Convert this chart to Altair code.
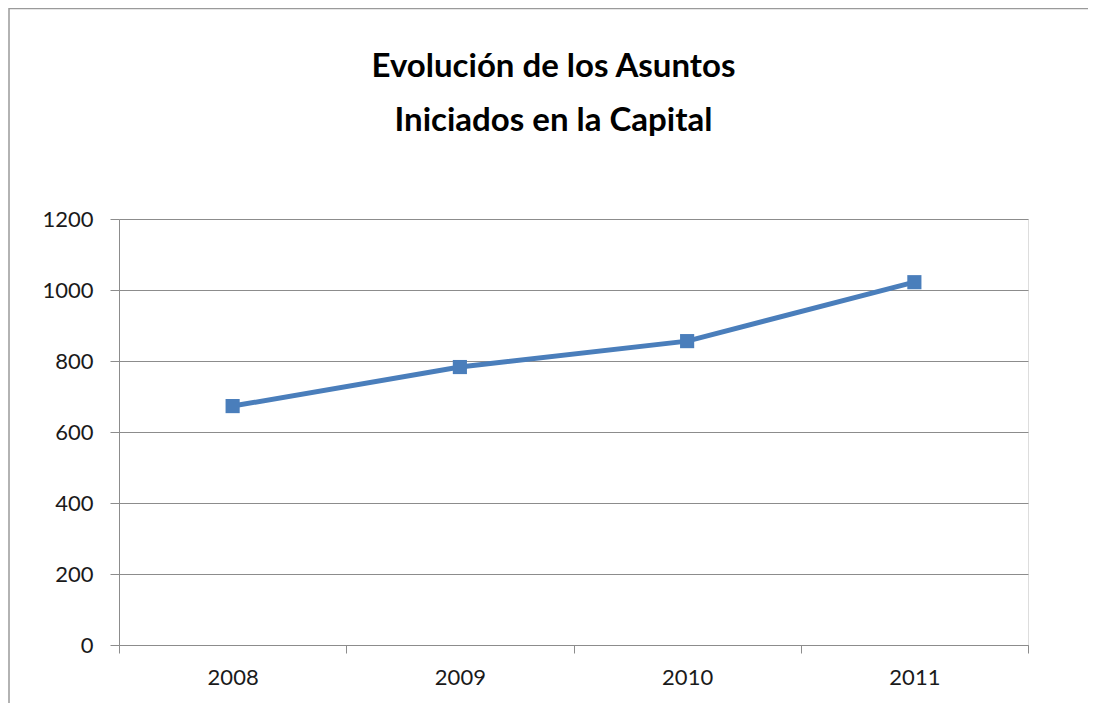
import altair as alt
import pandas as pd

years = ["2008", "2009", "2010", "2011"]
values = [673, 783, 856, 1022]

df = pd.DataFrame({"year": years, "value": values})

W, H = 909, 426
PL, PT, PR, PB = 111, 211, 60, 58

FONT = "Lato"
GRID = "#8c8c8c"
BLUE = "#4A7EBB"

base = alt.Chart(df)

x_enc = alt.X(
    "year:O",
    scale=alt.Scale(type="band", paddingInner=0, paddingOuter=0),
    axis=alt.Axis(
        title=None, labelAngle=0, tickBand="extent", tickSize=8,
        tickColor=GRID, domainColor=GRID, labelFontSize=22, labelFont=FONT,
        labelColor="#1a1a1a", labelPadding=14, grid=False,
    ),
)
y_enc = alt.Y(
    "value:Q",
    scale=alt.Scale(domain=[0, 1200], nice=False),
    axis=alt.Axis(
        title=None, values=[0, 200, 400, 600, 800, 1000, 1200], tickSize=9,
        format="d",
        tickColor=GRID, domainColor=GRID, gridColor=GRID, grid=True,
        labelFontSize=22, labelFont=FONT, labelColor="#1a1a1a", labelPadding=17,
    ),
)

line = base.mark_line(color=BLUE, strokeWidth=5).encode(x=x_enc, y=y_enc)
pts = base.mark_point(shape="square", filled=True, size=200, color=BLUE, opacity=1).encode(
    x="year:O", y="value:Q"
)

frame = alt.Chart(pd.DataFrame({"k": [0]})).mark_rect(
    filled=False, stroke="#9a9a9a", strokeWidth=1.5
).encode(
    x=alt.value(-PL + 1), x2=alt.value(W + PR + 40),
    y=alt.value(-PT + 0.5), y2=alt.value(H + PB + 40),
)

chart = alt.layer(frame, line, pts).properties(
    width=W,
    height=H,
    autosize=alt.AutoSizeParams(type="none"),
    padding={"left": PL, "top": PT, "right": PR, "bottom": PB},
    title=alt.TitleParams(
        text=["Evolución de los Asuntos", "Iniciados en la Capital"],
        font=FONT, fontSize=33, fontWeight="bold", color="#000000",
        anchor="middle", frame="group", dx=-20, offset=0, dy=156,
        baseline="alphabetic", lineHeight=54,
    ),
).configure_view(stroke=None).configure(background="white")

chart.save("out.html", embed_options={"renderer": "svg", "actions": False})
